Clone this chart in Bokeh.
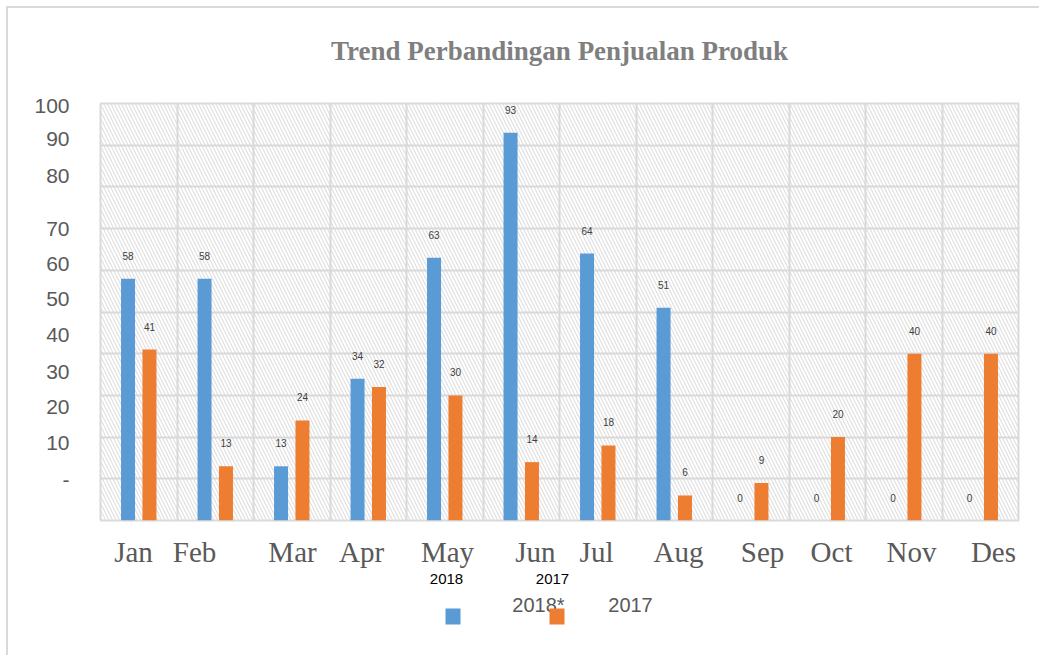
from bokeh.plotting import figure
from bokeh.layouts import column
from bokeh.models import (ColumnDataSource, FixedTicker, BoxAnnotation, Range1d, Title)
from bokeh.transform import dodge
from bokeh.core.properties import value
from bokeh.embed import file_html
from bokeh.resources import INLINE

# ---- data ----
chart_title = "Trend Perbandingan Penjualan Produk"
months = ["Jan", "Feb", "Mar", "Apr", "May", "Jun", "Jul", "Aug", "Sep", "Oct", "Nov", "Des"]
sales_2018 = [58, 58, 13, 34, 63, 93, 64, 51, 0, 0, 0, 0]
sales_2017 = [41, 13, 24, 32, 30, 14, 18, 6, 9, 20, 40, 40]
y_tick_labels = ["100", "90", "80", "70", "60", "50", "40", "30", "20", "10", "-"]
legend_top_labels = ["2018", "2017"]
legend_labels = ["2018*", "2017"]

# label placement (layout, not data)
month_label_pos = [0.431, 1.229, 2.510, 3.412, 4.536, 5.686, 6.484, 7.556, 8.654, 9.556, 10.601, 11.673]
y_label_pos = [99.5, 91.6, 82.7, 70.0, 61.6, 53.0, 44.4, 35.7, 27.1, 18.5, 9.6]

BLUE = "#5b9bd5"
ORANGE = "#ed7d31"
GRID = "#d9d9d9"
TXT = "#595959"

source = ColumnDataSource(dict(
    x=[i + 0.5 for i in range(len(months))],
    s2018=sales_2018,
    s2017=sales_2017,
    t2018=[str(v) for v in sales_2018],
    t2017=[str(v) for v in sales_2017],
))

p = figure(width=1033, height=562, x_range=(0, 12), y_range=(0, 100),
           output_backend="svg", toolbar_location=None, title=None,
           min_border_left=92, min_border_right=23, min_border_top=95, min_border_bottom=50,
           styles={"border-left": "2px solid #d9d9d9", "border-top": "2px solid #d9d9d9"})
p.margin = (6, 0, 0, 6)

# spacer (closest to frame) then the real title above it
p.add_layout(Title(text=" ", text_font_size="1px", standoff=35), "above")
p.add_layout(Title(text=chart_title, align="center", text_font="Liberation Serif",
                   text_font_size="27px", text_font_style="bold", text_color="#7f7f7f",
                   standoff=0), "above")

p.background_fill_color = "white"
p.border_fill_color = "white"
p.outline_line_color = GRID
p.outline_line_width = 2

# hatched background
p.add_layout(BoxAnnotation(fill_color=None, line_color=None, hatch_pattern="\\",
                           hatch_color="#e0e0e0", hatch_scale=7, hatch_weight=1.2,
                           level="image"))

# grids
p.xgrid.ticker = FixedTicker(ticks=list(range(0, 13)))
p.ygrid.ticker = FixedTicker(ticks=list(range(0, 101, 10)))
for g in (p.xgrid, p.ygrid):
    g.grid_line_color = GRID
    g.grid_line_width = 2

# axes
p.xaxis.ticker = FixedTicker(ticks=month_label_pos)
p.xaxis.major_label_overrides = {pos: m for pos, m in zip(month_label_pos, months)}
p.yaxis.ticker = FixedTicker(ticks=y_label_pos)
p.yaxis.major_label_overrides = {pos: t for pos, t in zip(y_label_pos, y_tick_labels)}
for ax in (p.xaxis, p.yaxis):
    ax.axis_line_color = None
    ax.major_tick_line_color = None
    ax.minor_tick_line_color = None
    ax.major_tick_out = 0
    ax.major_tick_in = 0
    ax.major_label_text_color = TXT
p.xaxis.major_label_text_font = "Liberation Serif"
p.xaxis.major_label_text_font_size = "29px"
p.xaxis.major_label_standoff = 15
p.yaxis.major_label_text_font = "Liberation Sans"
p.yaxis.major_label_text_font_size = "21px"
p.yaxis.major_label_standoff = 31

# bars
p.vbar(x=dodge("x", -0.14, range=p.x_range), top="s2018", width=0.183, bottom=0,
       source=source, fill_color=BLUE, line_color=None)
p.vbar(x=dodge("x", 0.14, range=p.x_range), top="s2017", width=0.183, bottom=0,
       source=source, fill_color=ORANGE, line_color=None)

# value labels
for col, tcol, off in (("s2018", "t2018", -0.14), ("s2017", "t2017", 0.14)):
    p.text(x=dodge("x", off, range=p.x_range), y=col, text=tcol, source=source,
           text_align="center", text_baseline="middle", y_offset=-23,
           text_font=value("Liberation Sans"), text_font_size="10px", text_color="#404040")

# ---- legend strip below (page-pixel coordinates, frame aligned with main frame) ----
leg = figure(width=1033, height=87, x_range=Range1d(100, 1018), y_range=Range1d(657, 570),
             output_backend="svg", toolbar_location=None,
             x_axis_location=None, y_axis_location=None,
             min_border_left=92, min_border_right=23, min_border_top=0, min_border_bottom=0,
             styles={"border-left": "2px solid #d9d9d9"})
leg.margin = (0, 0, 0, 6)
leg.grid.visible = False
leg.outline_line_color = None
leg.background_fill_color = "white"
leg.border_fill_color = "white"

leg.text(x=[446, 552], y=[580, 580], text=legend_top_labels,
         text_align="center", text_baseline="middle",
         text_font=value("Liberation Sans"), text_font_size="15px", text_color="black")
leg.text(x=[538, 630], y=[606, 606], text=legend_labels,
         text_align="center", text_baseline="middle",
         text_font=value("Liberation Sans"), text_font_size="20px", text_color=TXT)
leg.rect(x=[452.5, 556.5], y=[618, 618], width=15, height=16,
         fill_color=[BLUE, ORANGE], line_color=None)

layout = column(p, leg, spacing=0)
open("out.html", "w").write(file_html(layout, INLINE))
